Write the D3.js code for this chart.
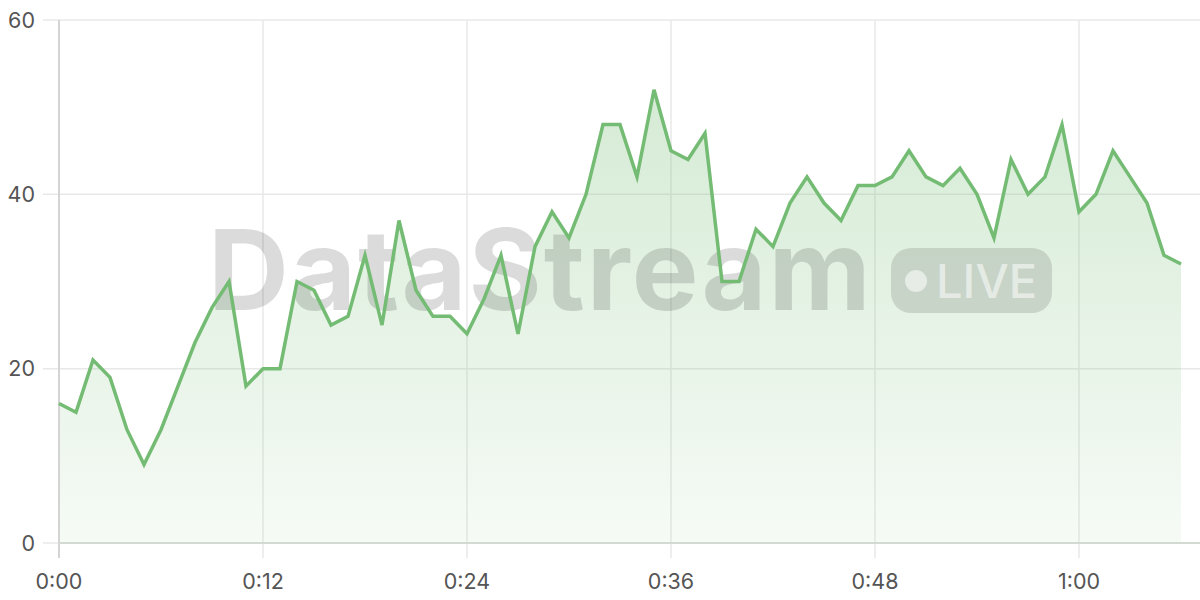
<!DOCTYPE html>
<html><head><meta charset="utf-8">
<script src="https://cdn.jsdelivr.net/npm/d3@7"></script>
<style>html,body{margin:0;padding:0;background:#fff;}svg{display:block;font-family:Inter,"Noto Sans",sans-serif;}</style>
</head><body><svg id="c" width="1200" height="600"></svg>
<script>
const seconds = d3.range(0, 67);
const values = [16,15,21,19,13,9,13,18,23,27,30,18,20,20,30,29,25,26,33,25,37,29,26,26,24,28,33,24,34,38,35,40,48,48,42,52,45,44,47,30,30,36,34,39,42,39,37,41,41,42,45,42,41,43,40,35,44,40,42,48,38,40,45,42,39,33,32];
const yTicks = [0,20,40,60];
const xTicks = [0,12,24,36,48,60];
const data = seconds.map((s,i)=>({s, v: values[i]}));

const svg = d3.select('#c');
const x = d3.scaleLinear().domain([0,67]).range([59,1198]);
const y = d3.scaleLinear().domain([0,60]).range([543,20]);
const fmt = s => Math.floor(s/60) + ':' + String(s%60).padStart(2,'0');

const defs = svg.append('defs');
const g = defs.append('linearGradient').attr('id','ag').attr('x1',0).attr('y1',0).attr('x2',0).attr('y2',1);
g.append('stop').attr('offset','0%').attr('stop-color','#7cc07c').attr('stop-opacity',0.32);
g.append('stop').attr('offset','100%').attr('stop-color','#7cc07c').attr('stop-opacity',0.07);

// horizontal grid
svg.append('g').selectAll('line').data(yTicks).join('line')
  .attr('x1',43).attr('x2',1200).attr('y1',d=>y(d)).attr('y2',d=>y(d))
  .attr('stroke','#e8e8e8').attr('stroke-width',1.5);
// vertical grid
svg.append('g').selectAll('line').data(xTicks.filter(d=>d>0)).join('line')
  .attr('x1',d=>x(d)).attr('x2',d=>x(d)).attr('y1',20).attr('y2',558)
  .attr('stroke','#e8e8e8').attr('stroke-width',1.5);

// area
svg.append('path').datum(data)
  .attr('d', d3.area().x(d=>x(d.s)).y0(y(0)).y1(d=>y(d.v)))
  .attr('fill','url(#ag)');

// watermark
const wm = svg.append('g');
wm.append('text').attr('x',208).attr('y',310)
  .attr('font-size',112).attr('font-weight',700).attr('letter-spacing',2)
  .attr('fill','rgba(0,0,0,0.14)').text('DataStream');
wm.append('rect').attr('x',891).attr('y',248).attr('width',161).attr('height',65).attr('rx',20)
  .attr('fill','rgba(0,0,0,0.12)');
wm.append('circle').attr('cx',916).attr('cy',281).attr('r',11).attr('fill','rgba(255,255,255,0.55)');
wm.append('text').attr('x',936).attr('y',298).attr('font-size',47).attr('font-weight',500)
  .attr('fill','rgba(255,255,255,0.55)').text('LIVE');

// y axis line
svg.append('line').attr('x1',x(0)).attr('x2',x(0)).attr('y1',20).attr('y2',558)
  .attr('stroke','#d4d4d4').attr('stroke-width',2);
// x axis line
svg.append('line').attr('x1',x(0)).attr('x2',1200).attr('y1',y(0)).attr('y2',y(0))
  .attr('stroke','#d2dad2').attr('stroke-width',2);

// line
svg.append('path').datum(data)
  .attr('d', d3.line().x(d=>x(d.s)).y(d=>y(d.v)))
  .attr('fill','none').attr('stroke','#74bb74').attr('stroke-width',3.5).attr('stroke-linejoin','miter');

// labels
svg.append('g').selectAll('text').data(yTicks).join('text')
  .attr('x',35).attr('y',d=>y(d)).attr('dy','0.36em').attr('text-anchor','end')
  .attr('font-size',21.5).attr('fill','#555').text(d=>d);
svg.append('g').selectAll('text').data(xTicks).join('text')
  .attr('x',d=>x(d)).attr('y',589).attr('text-anchor','middle')
  .attr('font-size',21.5).attr('fill','#555').text(fmt);
</script></body></html>
